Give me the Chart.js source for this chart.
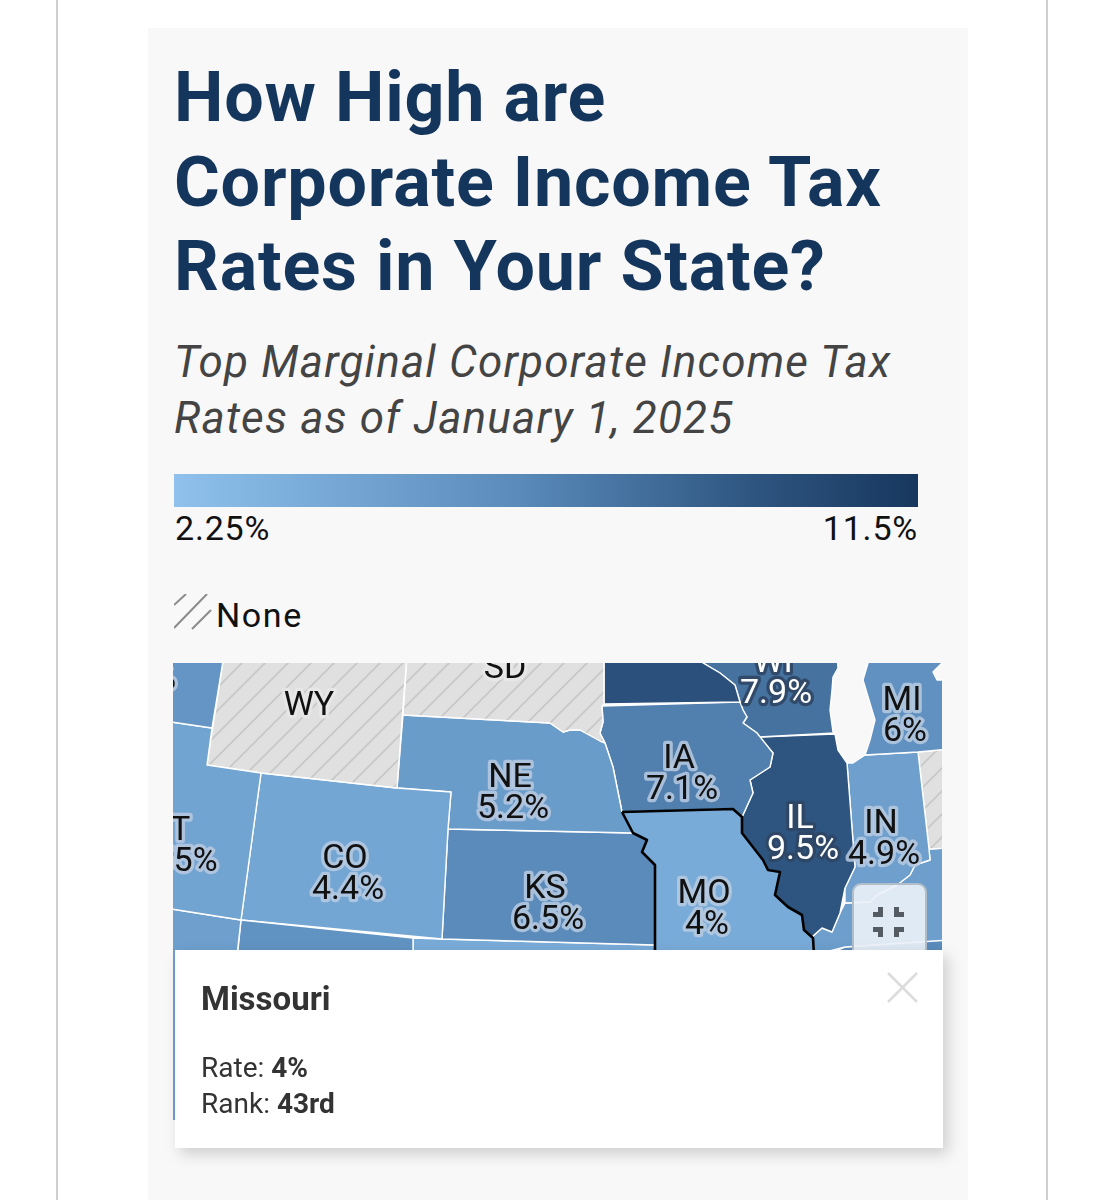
<!DOCTYPE html>
<html><head><meta charset="utf-8">
<script src="https://cdn.jsdelivr.net/npm/chart.js@4"></script>
<style>
html,body{margin:0;padding:0;background:#fff;width:1103px;height:1200px;overflow:hidden;font-family:Roboto,sans-serif}
.abs{position:absolute;white-space:nowrap}
#rule1,#rule2{position:absolute;top:0;width:2px;height:1200px;background:#cfcfcf}
#panel{position:absolute;left:148px;top:28px;width:820px;height:1172px;background:#f8f8f8}
.title{left:174px;font-weight:700;font-size:70px;line-height:85px;color:#15365c;letter-spacing:.8px}
.sub{left:174px;font-style:italic;font-size:44px;line-height:56px;color:#444;letter-spacing:1.2px}
#bar{position:absolute;left:174px;top:474px;width:744px;height:33px;background:linear-gradient(90deg,#8fc1ec 0%,#5a8bbb 46%,#2e5580 78%,#17375e 100%)}
.leg{font-size:34px;color:#111;line-height:40px;letter-spacing:.8px}
#map{position:absolute;left:173px;top:663px}
#btn{position:absolute;left:852px;top:883px;width:71px;height:80px;border:2.5px solid rgba(175,186,198,.95);border-radius:9px;background:rgba(236,242,250,.9)}
#tip{position:absolute;left:175px;top:950px;width:768px;height:198px;background:#fff;box-shadow:5px 6px 14px rgba(0,0,0,.17)}
#tip .abs{color:#333}
</style></head><body>
<div id="rule1" style="left:56px"></div><div id="rule2" style="left:1046px"></div>
<div id="panel"></div>
<div class="abs title" style="top:55px">How High are</div>
<div class="abs title" style="top:140px">Corporate Income Tax</div>
<div class="abs title" style="top:224px">Rates in Your State?</div>
<div class="abs sub" style="top:334px">Top Marginal Corporate Income Tax</div>
<div class="abs sub" style="top:390px">Rates as of January 1, 2025</div>
<div id="bar"></div>
<div class="abs leg" id="lo" style="left:175px;top:508px">2.25%</div>
<div class="abs leg" id="hi" style="right:185px;top:508px">11.5%</div>
<svg class="abs" style="left:174px;top:594px" width="38" height="36"><g stroke="#8a8a8a" stroke-width="2"><line x1="0" y1="11" x2="12" y2="0"/><line x1="0" y1="34" x2="33" y2="0"/><line x1="18" y1="35" x2="37" y2="16"/></g></svg>
<div class="abs leg" style="left:216px;top:595px;letter-spacing:1.6px">None</div>
<canvas id="map" width="769" height="457"></canvas>
<div id="btn"><svg width="71" height="80" style="position:absolute;left:0;top:0"><g fill="#555b63"><path d="M19 27h5v-5h5v10h-10z"/><path d="M40 22h5v5h5v5h-10z"/><path d="M19 42h10v10h-5v-5h-5z"/><path d="M40 42h10v5h-5v5h-5z"/></g></svg></div>
<div id="tip">
<div class="abs" style="left:26px;top:29px;font-size:33px;font-weight:700;line-height:40px">Missouri</div>
<div class="abs" style="left:26px;top:100px;font-size:28px;line-height:36px">Rate: <b>4%</b></div>
<div class="abs" style="left:26px;top:136px;font-size:28px;line-height:36px">Rank: <b>43rd</b></div>
<svg class="abs" style="left:712px;top:22px" width="32" height="32"><g stroke="#dcdcdc" stroke-width="2.5"><line x1="1" y1="1" x2="30" y2="30"/><line x1="30" y1="1" x2="1" y2="30"/></g></svg>
</div>
<script>
// ---- values ----
const stateCodes = ['MO','ID','UT','AZ','NM','WY','CO','SD','NE','KS','OK','MN','IA','WI','IL','MI','IN','OH','KY','TN'];
const stateRates = [4,5.7,4.55,4.9,5.9,null,4.4,null,5.2,6.5,4,9.8,7.1,7.9,9.5,6,4.9,null,5,6.5];
const labelStates = ['ID','WY','SD','UT','CO','NE','KS','IA','WI','IL','MI','IN','MO'];
const labelRates = ['5.7%','','','4.55%','4.4%','5.2%','6.5%','7.1%','7.9%','9.5%','6%','4.9%','4%'];
const labelX = [140,309,505,172,348,513,548,682,776,803,905,884,707];
const labelY = [658,715,678,840,868,787,898,768,672,828,710,833,903];
const scaleDomain = [2.25,6.5,9.5,11.5];
const scaleColors = [[143,193,236],[90,139,187],[46,85,128],[23,55,94]];

// state outlines in map units
const outlines = {
 MO:[[622,812],[733,809],[742,817],[742,833],[763,860],[768,870],[780,872],[775,895],[788,907],[802,915],[804,930],[813,938],[814,955],[655,955],[655,865],[642,852],[647,840],[633,833]],
 ID:[[165,655],[224,655],[212,728],[165,721]],
 UT:[[165,721],[212,728],[207,765],[261,773],[241,920],[165,908]],
 AZ:[[165,908],[241,920],[237,955],[237,1125],[165,1125]],
 NM:[[241,920],[413,938],[413,960],[237,960]],
 WY:[[224,655],[207,765],[261,773],[397,788],[407,655]],
 CO:[[261,773],[397,788],[451,792],[448,829],[442,939],[241,920]],
 SD:[[407,655],[403,715],[550,723],[563,732],[570,730],[580,730],[600,741],[605,743],[600,733],[603,722],[602,706],[604,704],[604,655]],
 NE:[[403,715],[550,723],[563,732],[570,730],[580,730],[605,743],[613,767],[618,792],[622,812],[633,833],[448,829],[451,792],[397,788]],
 KS:[[448,829],[633,833],[647,840],[642,852],[655,865],[655,945],[442,939]],
 OK:[[413,938],[442,939],[655,945],[655,960],[413,960]],
 MN:[[604,655],[604,704],[740,702],[735,685],[720,673],[703,663],[700,655]],
 IA:[[602,706],[740,702],[743,710],[747,717],[743,723],[757,733],[773,753],[770,767],[750,780],[753,793],[742,817],[733,809],[622,812],[618,792],[613,767],[605,743],[600,733],[603,722]],
 WI:[[700,655],[703,663],[720,673],[735,685],[740,702],[743,710],[747,717],[743,723],[757,733],[759,737],[835,733],[833,732],[830,710],[832,690],[833,677],[838,668],[837,655]],
 IL:[[759,737],[835,734],[838,750],[847,763],[855,867],[845,888],[840,913],[832,932],[822,928],[813,936],[813,938],[804,930],[802,915],[788,907],[775,895],[780,872],[768,870],[763,860],[742,833],[742,817],[753,793],[750,780],[770,767],[773,753]],
 MI:[[868,655],[868,663],[863,680],[875,720],[870,740],[865,755],[918,752],[950,749],[950,680],[937,680],[933,672],[942,663],[950,655]],
 IN:[[847,763],[853,763],[865,755],[918,752],[929,849],[930,860],[915,865],[910,875],[897,885],[877,895],[870,902],[845,903],[845,888],[855,867]],
 OH:[[918,752],[950,749],[950,848],[929,849]],
 KY:[[845,903],[870,902],[877,895],[897,885],[910,875],[915,865],[930,860],[929,849],[950,848],[950,940],[845,947],[814,955],[813,938],[813,936],[822,928],[832,932],[840,913]],
 TN:[[845,947],[950,939],[950,960],[814,960]]
};

function rateColor(r){
  let i=0; while(i<scaleDomain.length-2 && r>scaleDomain[i+1]) i++;
  const t=(r-scaleDomain[i])/(scaleDomain[i+1]-scaleDomain[i]);
  const c=scaleColors[i].map((v,k)=>Math.round(v+(scaleColors[i+1][k]-v)*t));
  return 'rgb('+c.join(',')+')';
}
function hatch(){
  const s=23,p=document.createElement('canvas');p.width=p.height=s;
  const g=p.getContext('2d');g.fillStyle='#e0e0e0';g.fillRect(0,0,s,s);
  g.strokeStyle='#c8c8c8';g.lineWidth=1.8;
  [[-1,1,1,-1],[0,s,s,0],[s-1,s+1,s+1,s-1]].forEach(l=>{g.beginPath();g.moveTo(l[0],l[1]);g.lineTo(l[2],l[3]);g.stroke();});
  return g.createPattern(p,'repeat');
}
const none=hatch();
const datasets=stateCodes.map((code,i)=>{
  const pts=outlines[code].concat([outlines[code][0]]).map(p=>({x:p[0],y:p[1]}));
  return {label:code,data:pts,showLine:true,fill:'shape',tension:0,pointRadius:0,
    backgroundColor:stateRates[i]===null?none:rateColor(stateRates[i]),
    borderColor:code==='MO'?'#000':'#fff',borderWidth:code==='MO'?2.6:1.4,borderJoinStyle:'round'};
});
const labelPlugin={id:'stateLabels',afterDatasetsDraw(chart){
  const {ctx,scales:{x,y}}=chart;
  ctx.save();ctx.font='34px Roboto';ctx.textAlign='center';ctx.textBaseline='alphabetic';ctx.lineJoin='round';
  labelStates.forEach((s,i)=>{
    const r=stateRates[stateCodes.indexOf(s)];
    const px=x.getPixelForValue(labelX[i]),py=y.getPixelForValue(labelY[i]);
    const dark=r!==null&&r>=7.5;
    ctx.lineWidth=6.5;
    ctx.strokeStyle=r===null?'rgba(232,232,232,.85)':(dark?'rgba(48,70,100,.9)':'rgba(184,202,224,.85)');
    ctx.fillStyle=dark?'#fff':'#111';
    const lines=labelRates[i]?[s,labelRates[i]]:[s];
    const off=k=>(k===0&&lines.length>1)?-3:0;
    lines.forEach((t,k)=>{ctx.strokeText(t,px+off(k),py+k*30.5);});
    lines.forEach((t,k)=>{ctx.fillText(t,px+off(k),py+k*30.5);});
  });
  ctx.restore();
}};
new Chart(document.getElementById('map'),{
  type:'scatter',data:{datasets},plugins:[labelPlugin],
  options:{responsive:false,animation:false,events:[],devicePixelRatio:1,layout:{padding:0},
    plugins:{legend:{display:false},tooltip:{enabled:false}},
    scales:{x:{type:'linear',display:false,min:173,max:942},y:{type:'linear',display:false,min:663,max:1120,reverse:true}}}
});
</script>
</body></html>
